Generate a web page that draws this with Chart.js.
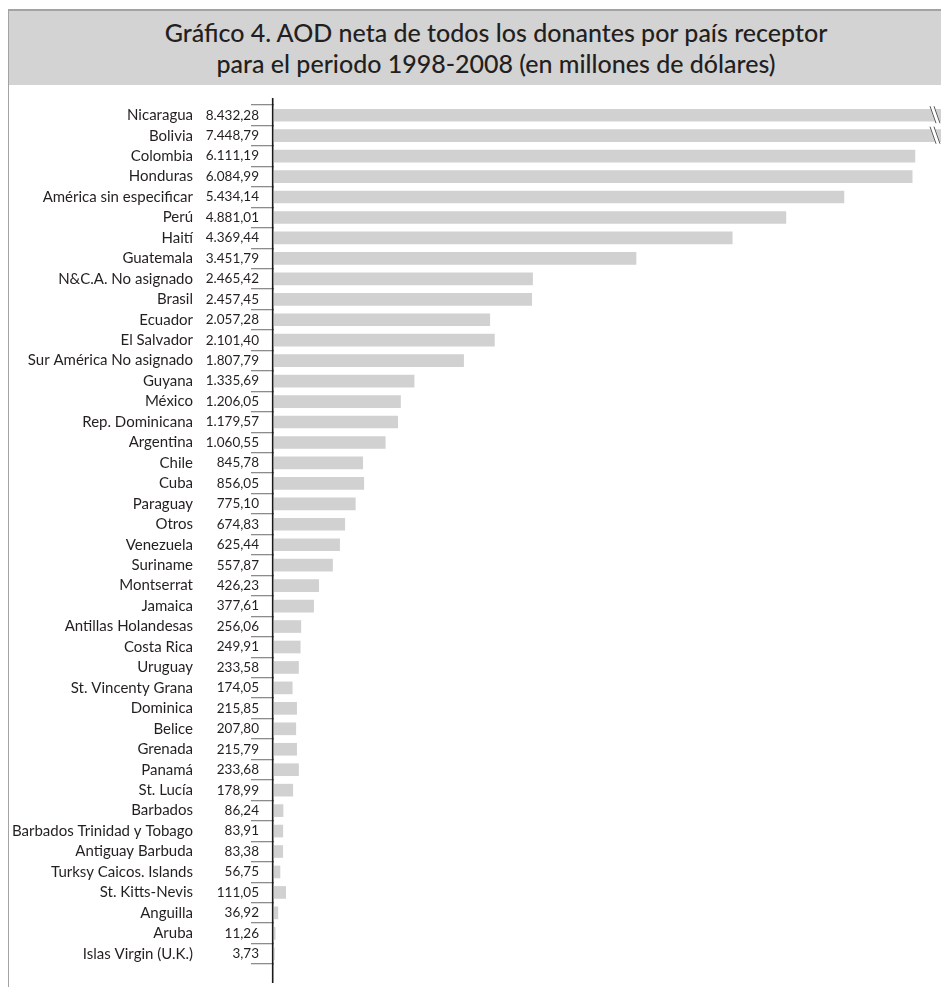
<!DOCTYPE html>
<html><head><meta charset="utf-8">
<script src="https://cdn.jsdelivr.net/npm/chart.js@4/dist/chart.umd.min.js"></script>
<style>
html,body{margin:0;padding:0;background:#fff;}
body{width:941px;height:987px;position:relative;overflow:hidden;font-family:Lato,"Open Sans",sans-serif;}
#frame{position:absolute;left:7.5px;top:9px;width:1000px;height:1000px;border-top:2px solid #a3a3a3;border-left:1.5px solid #a3a3a3;}
#title{position:absolute;left:9px;top:11px;width:974px;height:74px;background:#d3d3d3;color:#231f20;font-size:25px;line-height:31px;text-align:center;padding-top:6px;box-sizing:border-box;font-weight:500;}
#wrap{position:absolute;left:0;top:0;width:941px;height:987px;}
</style></head>
<body>
<div id="frame"></div>
<div id="title">Gráfico 4. AOD neta de todos los donantes por país receptor<br>para el periodo 1998-2008 (en millones de dólares)</div>
<div id="wrap"><canvas id="c" width="941" height="987"></canvas></div>
<script>
const categories = ["Nicaragua","Bolivia","Colombia","Honduras","América sin especificar","Perú","Haití","Guatemala","N&C.A. No asignado","Brasil","Ecuador","El Salvador","Sur América No asignado","Guyana","México","Rep. Dominicana","Argentina","Chile","Cuba","Paraguay","Otros","Venezuela","Suriname","Montserrat","Jamaica","Antillas Holandesas","Costa Rica","Uruguay","St. Vincenty Grana","Dominica","Belice","Grenada","Panamá","St. Lucía","Barbados","Barbados Trinidad y Tobago","Antiguay Barbuda","Turksy Caicos. Islands","St. Kitts-Nevis","Anguilla","Aruba","Islas Virgin (U.K.)"];
const values = [8432.28,7448.79,6111.19,6084.99,5434.14,4881.01,4369.44,3451.79,2465.42,2457.45,2057.28,2101.40,1807.79,1335.69,1206.05,1179.57,1060.55,845.78,856.05,775.10,674.83,625.44,557.87,426.23,377.61,256.06,249.91,233.58,174.05,215.85,207.80,215.79,233.68,178.99,86.24,83.91,83.38,56.75,111.05,36.92,11.26,3.73];
const axisMax = 6360;

function fmt(v){
  const parts = v.toFixed(2).split('.');
  return parts[0].replace(/\B(?=(\d{3})+(?!\d))/g,'.') + ',' + parts[1];
}

const labelFont = {family:'Lato, "Open Sans", sans-serif', size:15};
const valueFont = {family:'Lato, "Open Sans", sans-serif', size:13.5};

const extras = {
  id:'extras',
  afterDatasetsDraw(chart){
    const ctx = chart.ctx, ca = chart.chartArea;
    const meta = chart.getDatasetMeta(0);
    const xs = chart.scales.x;
    ctx.save();
    meta.data.forEach((bar,i)=>{
      if (values[i] > xs.max) {
        const xe = Math.min(bar.x, ca.right) - 4;
        const t = bar.y - bar.height/2 - 3, b = bar.y + bar.height/2 + 2;
        ctx.strokeStyle = '#fff'; ctx.lineWidth = 5;
        ctx.beginPath(); ctx.moveTo(xe-5,t); ctx.lineTo(xe+1,b); ctx.stroke();
        ctx.strokeStyle = '#555'; ctx.lineWidth = 1;
        ctx.beginPath(); ctx.moveTo(xe-7,t); ctx.lineTo(xe-1,b); ctx.stroke();
        ctx.beginPath(); ctx.moveTo(xe-3,t); ctx.lineTo(xe+3,b); ctx.stroke();
      }
    });
    ctx.strokeStyle = '#1a1a1a'; ctx.lineWidth = 1.6;
    ctx.beginPath(); ctx.moveTo(ca.left - 1.3, ca.top - 7); ctx.lineTo(ca.left - 1.3, ca.bottom + 19); ctx.stroke();
    ctx.restore();
  }
};

new Chart(document.getElementById('c'), {
  type:'bar',
  data:{ labels: categories, datasets:[{ data: values, backgroundColor:'#d1d1d1', borderWidth:0, barThickness:12 }] },
  options:{
    indexAxis:'y', responsive:false, animation:false, devicePixelRatio:1,
    layout:{ padding:{ top:105, bottom:23, left:0, right:0 } },
    plugins:{ legend:{display:false}, tooltip:{enabled:false}, title:{display:false} },
    scales:{
      x:{ display:false, min:0, max:axisMax },
      y:{ type:'category', position:'left', weight:0, offset:true,
          grid:{ display:true, drawOnChartArea:false, drawTicks:true, tickLength:23, offset:true, color:'#8c8c8c', lineWidth:1.3 },
          border:{ display:false },
          ticks:{ callback:(v,i)=>fmt(values[i]), font:valueFont, color:'#231f20', padding:-8, autoSkip:false, crossAlign:'near' },
          afterFit(s){ s.width = 80; } },
      y2:{ type:'category', labels: categories, position:'left', weight:1, offset:true,
          grid:{ display:false, drawTicks:false }, border:{ display:false },
          ticks:{ font:labelFont, color:'#231f20', padding:1, autoSkip:false, crossAlign:'near' },
          afterFit(s){ s.width = 194; } }
    }
  },
  plugins:[extras]
});
</script>
</body></html>
